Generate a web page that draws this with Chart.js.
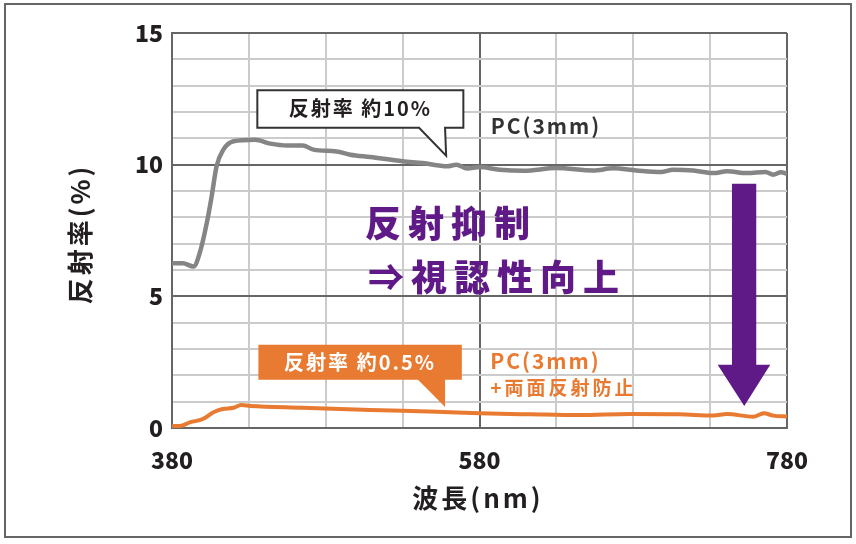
<!DOCTYPE html>
<html>
<head>
<meta charset="utf-8">
<script src="https://cdn.jsdelivr.net/npm/chart.js@4/dist/chart.umd.min.js"></script>
<style>
  html, body { margin: 0; padding: 0; background: #fff; }
  #wrap { width: 856px; height: 544px; }
</style>
</head>
<body>
<div id="wrap"><canvas id="ReflectChart" width="856" height="544"></canvas></div>
<script>
// reflectance spectra
const pcWavelength = [380, 387, 394, 398, 402.6, 405.8, 409, 413.4, 420, 434, 444, 455, 465, 472, 487, 496, 509, 530, 543, 559, 565, 572, 580, 593, 609, 630, 654, 667, 682, 698, 706, 719, 732, 741, 754, 766, 771, 776, 780];
const pcReflect    = [6.26, 6.26, 6.13, 6.64, 7.78, 8.8, 9.94, 10.57, 10.89, 10.95, 10.8, 10.73, 10.73, 10.57, 10.5, 10.38, 10.29, 10.13, 10.06, 9.94, 10.0, 9.85, 9.91, 9.81, 9.77, 9.87, 9.78, 9.86, 9.78, 9.72, 9.81, 9.78, 9.68, 9.75, 9.68, 9.72, 9.62, 9.71, 9.65];

const arWavelength = [380, 385, 392, 400, 407, 413, 420, 425, 431, 465, 509, 552, 580, 613, 645, 678, 710, 732, 741, 758, 765, 771, 780];
const arReflect    = [0.08, 0.08, 0.22, 0.34, 0.6, 0.72, 0.77, 0.87, 0.84, 0.77, 0.68, 0.62, 0.56, 0.52, 0.49, 0.53, 0.52, 0.47, 0.53, 0.43, 0.56, 0.47, 0.44];

const xTickLabels = [380, 580, 780];
const yTickLabels = [0, 5, 10, 15];

const FONT = "'Noto Sans CJK JP', 'Noto Sans', sans-serif";
const DARK = '#231f20';
const GRAY = '#858585';
const ORANGE = '#e87a31';
const PURPLE = '#5f1a87';

const toPoints = (xs, ys) => xs.map((x, i) => ({ x: x, y: ys[i] }));

// callouts, labels, arrow and titles placed in data units
const overlay = {
  id: 'overlay',
  afterDatasetsDraw(chart) {
    const c = chart.ctx;
    const sx = chart.scales.x, sy = chart.scales.y;
    const X = v => sx.getPixelForValue(v);
    const Y = v => sy.getPixelForValue(v);

    function bubble(l, r, t, b, ta, tb, tx, ty, fill, stroke) {
      c.beginPath();
      c.moveTo(X(l), Y(t));
      c.lineTo(X(r), Y(t));
      c.lineTo(X(r), Y(b));
      c.lineTo(X(tb), Y(b));
      c.lineTo(X(tx), Y(ty));
      c.lineTo(X(ta), Y(b));
      c.lineTo(X(l), Y(b));
      c.closePath();
      c.fillStyle = fill;
      c.fill();
      if (stroke) {
        c.strokeStyle = stroke;
        c.lineWidth = 2;
        c.lineJoin = 'miter';
        c.stroke();
      }
    }

    c.save();
    c.textBaseline = 'middle';

    // callout boxes
    bubble(435.5, 569.5, 12.83, 11.4, 540.7, 557.6, 558.3, 10.34, '#fff', '#333');
    bubble(436.2, 568.5, 3.16, 1.83, 540, 557.6, 557.6, 0.8, ORANGE, null);

    c.letterSpacing = '2px';
    c.font = 'bold 20px ' + FONT;
    c.textAlign = 'center';
    c.fillStyle = DARK;
    c.fillText('反射率 約10%', X(502.5), Y(12.12));
    c.fillStyle = '#fff';
    c.fillText('反射率 約0.5%', X(502.3), Y(2.5));

    // series labels
    c.textAlign = 'left';
    c.font = 'bold 21px ' + FONT;
    c.letterSpacing = '2px';
    c.fillStyle = '#333';
    c.fillText('PC(3mm)', X(587.3), Y(11.46));
    c.fillStyle = ORANGE;
    c.fillText('PC(3mm)', X(587), Y(2.56));
    c.font = 'bold 19px ' + FONT;
    c.letterSpacing = '3px';
    c.fillText('+両面反射防止', X(587), Y(1.51));

    // message
    c.fillStyle = PURPLE;
    c.font = '900 36px ' + FONT;
    c.letterSpacing = '7px';
    c.fillText('反射抑制', X(505.6), Y(7.76));
    c.fillText('⇒視認性向上', X(507.5), Y(5.74));

    // down arrow
    c.beginPath();
    c.moveTo(X(744.2), Y(9.28));
    c.lineTo(X(760), Y(9.28));
    c.lineTo(X(760), Y(2.4));
    c.lineTo(X(769.1), Y(2.4));
    c.lineTo(X(752.2), Y(0.84));
    c.lineTo(X(734.9), Y(2.4));
    c.lineTo(X(744.2), Y(2.4));
    c.closePath();
    c.fill();

    // axis titles
    c.fillStyle = DARK;
    c.letterSpacing = '3px';
    c.font = 'bold 26px ' + FONT;
    c.textAlign = 'center';
    c.fillText('波長(nm)', 478, 498);
    c.translate(80, 234);
    c.rotate(-Math.PI / 2);
    c.fillText('反射率(%)', 0, 0);
    c.restore();

    // outer frame
    c.save();
    c.strokeStyle = '#666';
    c.lineWidth = 2;
    c.strokeRect(5, 4, 846, 533);
    c.restore();
  }
};

const ctx = document
  .getElementById('ReflectChart')
  .getContext('2d');

new Chart(ctx, {
  type: 'line',
  data: {
    datasets: [
      {
        label: 'PC(3mm)',
        data: toPoints(pcWavelength, pcReflect),
        borderColor: GRAY,
        borderWidth: 4.5,
        pointRadius: 0,
        cubicInterpolationMode: 'monotone',
        fill: false,
      },
      {
        label: 'PC(3mm)+両面反射防止',
        data: toPoints(arWavelength, arReflect),
        borderColor: ORANGE,
        borderWidth: 4,
        pointRadius: 0,
        cubicInterpolationMode: 'monotone',
        fill: false,
      }
    ]
  },
  options: {
    responsive: false,
    animation: false,
    events: [],
    layout: { padding: { top: 33, right: 69, left: 0, bottom: 0 } },
    plugins: {
      legend: { display: false },
      tooltip: { enabled: false }
    },
    scales: {
      x: {
        type: 'linear',
        min: 380,
        max: 780,
        afterFit: s => { s.height = 116; },
        grid: {
          drawTicks: false,
          lineWidth: 2,
          color: c => xTickLabels.includes(c.tick.value) ? '#666' : '#cbcbcb'
        },
        border: { color: '#666', width: 2 },
        ticks: {
          stepSize: 50,
          padding: 18,
          maxRotation: 0,
          autoSkip: false,
          color: DARK,
          font: { family: FONT, size: 23, weight: '900' },
          callback: v => xTickLabels.includes(v) ? String(v) : ''
        }
      },
      y: {
        min: 0,
        max: 15,
        afterFit: s => { s.width = 172; },
        grid: {
          drawTicks: false,
          lineWidth: 2,
          color: c => yTickLabels.includes(c.tick.value) ? '#666' : '#cbcbcb'
        },
        border: { color: '#666', width: 2 },
        ticks: {
          stepSize: 1,
          padding: 9,
          autoSkip: false,
          color: DARK,
          font: { family: FONT, size: 23, weight: '900' },
          callback: v => yTickLabels.includes(v) ? String(v) : ''
        }
      }
    }
  },
  plugins: [overlay]
});
</script>
</body>
</html>
